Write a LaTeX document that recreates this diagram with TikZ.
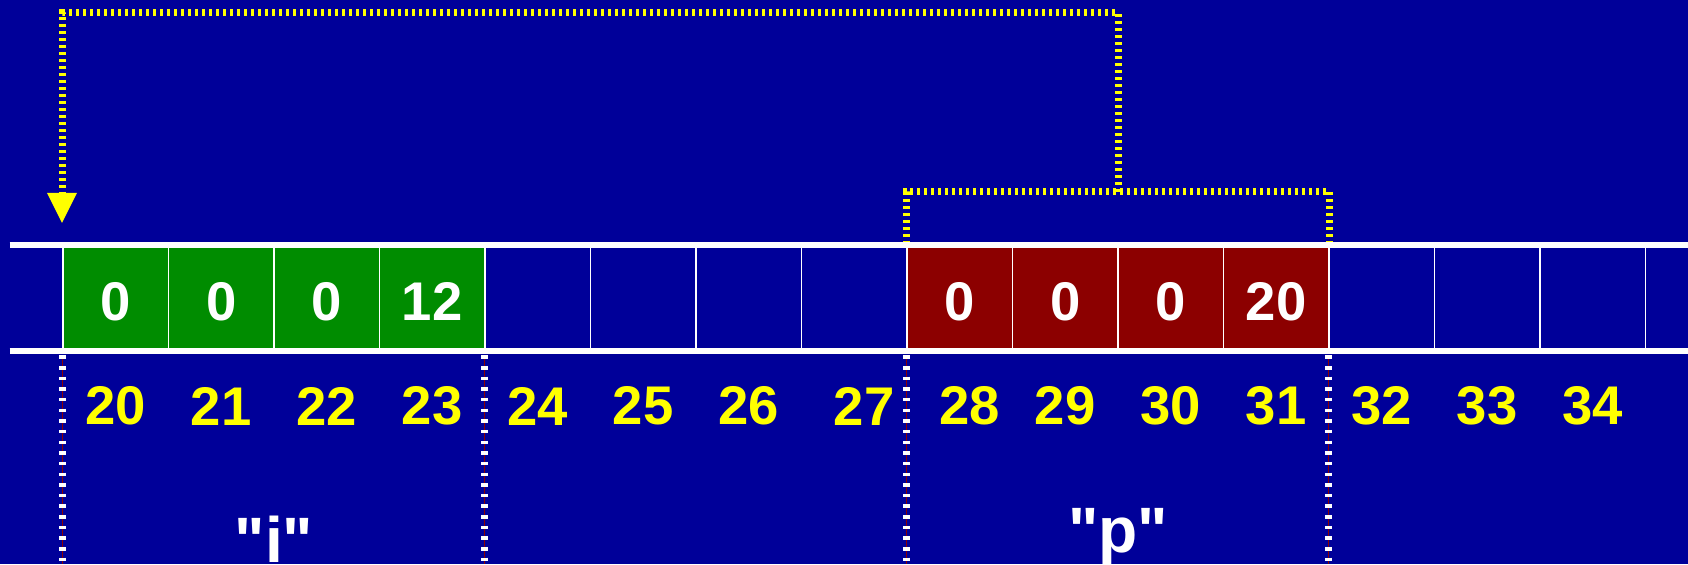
\documentclass[tikz,border=0pt]{standalone}
\usepackage{fontspec}
\setmainfont{Liberation Sans}[Ligatures=TeXOff]
\usetikzlibrary{arrows.meta}

\definecolor{membg}{RGB}{0,0,153}
\definecolor{memgreen}{RGB}{0,140,0}
\definecolor{memred}{RGB}{140,0,0}
\definecolor{memyellow}{RGB}{255,255,0}

\begin{document}
\begin{tikzpicture}[
        cell/.style={draw=white, line width=1pt, rectangle, minimum width=2.11cm, minimum height=2.12cm, inner sep=0pt, text=white, text height=0.9cm, text depth=0pt, font=\fontsize{31}{31}\selectfont\bfseries},
        addr/.style={text=memyellow, inner sep=0pt, font=\fontsize{31}{31}\selectfont\bfseries},
        varname/.style={text=white, inner sep=0pt, anchor=base, font=\fontsize{36.5}{36.5}\selectfont\bfseries},
        rail/.style={white, line width=0.132cm},
        whitedots/.style={white, line width=0.14cm, dash pattern=on 0.07cm off 0.143cm},
        redline/.style={memred, line width=0.02cm},
        ydots/.style={memyellow, line width=0.14cm, dash pattern=on 0.065cm off 0.075cm}
    ]

    % Explicit frame to keep the page size
    \useasboundingbox[fill=membg] (0,0) rectangle (33.76,11.28);

    % Memory cells
    \foreach \i in {24,...,27,32,33,34,35}
        \node[cell] (c\i) at ({2.315+2.11*(\i-20)}, 5.32) {};
    \foreach \i/\v/\c in {20/0/memgreen, 21/0/memgreen, 22/0/memgreen, 23/12/memgreen,
                          28/0/memred, 29/0/memred, 30/0/memred, 31/20/memred}
        \node[cell, fill=\c] (c\i) at ({2.315+2.11*(\i-20)}, 5.32) {\v};

    % Addresses
    \foreach \i/\dx in {20/0,21/0,22/0,23/0,24/0,25/0,26/0,27/0.2,28/0.2,29/0,30/0,31/0,32/0,33/0,34/0}
        \node[addr] (a\i) at ({2.315+2.11*(\i-20)+\dx}, 3.16) {\i};

    % Yellow pointer from "p" back to "i"
    \coordinate (pmid) at (22.36, 7.44);
    \coordinate (ptop) at (22.36, 11.02);
    \coordinate (itip) at (1.24, 6.82);
    \draw[ydots] (c28.north west) |- (pmid) -| (c31.north east);
    \draw[ydots, -{Triangle[width=0.6cm, length=0.6cm, line width=0pt]}] (pmid) -- (ptop) -| (itip);

    % Rails of the memory strip
    \draw[rail] (0.19, 6.38) -- (33.76, 6.38);
    \draw[rail] (0.19, 4.26) -- (33.76, 4.26);

    % Variable boundaries (dotted)
    \foreach \i in {20,24,28,32} {
        \draw[redline] ([yshift=-0.07cm]c\i.south west) -- (c\i.south west |- 0,0);
        \draw[whitedots] ([yshift=-0.07cm]c\i.south west) -- (c\i.south west |- 0,0);
    }

    % Variable names
    \node[varname] (iname) at (5.48, 0.04) {"i"};
    \node[varname] (pname) at (22.36, 0.24) {"p"};

    \end{tikzpicture}
\end{document}
